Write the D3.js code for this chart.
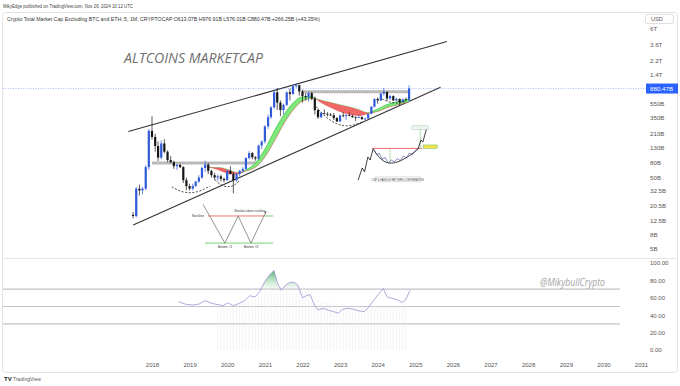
<!DOCTYPE html>
<html><head><meta charset="utf-8">
<script src="https://cdn.jsdelivr.net/npm/d3@7"></script>
<style>
body{margin:0;background:#fff;}
svg{display:block;font-family:"Liberation Sans",Arial,sans-serif;}
</style>
</head><body>
<svg id="chart" width="680" height="386"></svg>
<script>
// monthly candles, values in billions USD, first month 2017-07
const firstMonth = '2017-07';
const openB  = [15,14.5,35,33,35,70, 225,185,138,95,150,115,88,82,72,75,70,46, 38,35,38,44,50,68,76,62,54,50,52,48, 46,62,56,46,56,62,66,94,110,96,92,140, 160,260,350,480,780,560,440,520,780,740,950,980, 800,690,670,760,640,440,350,400,390,380,372,340, 305,370,365,375,365,350,345,350,330,335,390,490, 630,600,750,790,640,690,600,630,570,620,613.07];
const highB  = [16.5,37,40,37,74,240, 360,205,160,165,172,120,100,86,78,78,72,50, 41,41,45,54,72,86,80,64,58,55,55,50, 64,72,60,58,64,70,96,118,114,100,145,165, 270,380,500,820,900,600,540,800,880,990,1030,1000, 850,760,800,790,680,460,420,450,410,400,400,350, 380,410,390,410,380,360,375,360,345,395,500,640, 660,760,900,800,720,710,660,640,640,660,976.91];
const lowB   = [13.5,13.8,28,29,33,64, 170,115,85,90,110,82,80,66,64,68,42,33, 33,33,37,42,48,60,56,50,46,45,44,43, 45,55,30,43,52,58,64,90,90,86,88,125, 150,240,330,460,440,360,380,500,600,720,900,700, 560,600,580,600,380,330,340,380,360,360,320,300, 300,350,320,360,345,310,340,320,320,330,385,480, 540,590,700,600,610,590,580,520,560,590,576.01];
const closeB = [14.5,35,33,35,70,225, 185,138,95,150,115,88,82,72,75,70,46,38, 35,38,44,50,68,76,62,54,50,52,48,46, 62,56,46,56,62,66,94,110,96,92,140,160, 260,350,480,780,560,440,520,780,740,950,980,800, 690,670,760,640,440,350,400,390,380,372,340,305, 370,365,375,365,350,345,350,330,335,390,490,630, 600,750,790,640,690,600,630,570,620,613.07,880.47];
const lastClose = 880.47;

// ribbon (two moving averages), decimal years -> billions
const maYears = [2019.5,2019.75,2020.0,2020.25,2020.5,2020.75,2021.0,2021.25,2021.5,2021.75,2022.0,2022.25,2022.5,2022.75,2023.0,2023.25,2023.5,2023.75,2024.0,2024.25,2024.5,2024.83];
const fastMA  = [71,65,58,56,64,80,125,224,375,553,671,671,560,480,420,385,370,398,455,527,571,629];
const slowMA  = [69,69,65,59,62,70,97,162,281,441,590,639,605,560,520,485,445,402,420,478,518,571];

// drawings on the price pane: [decimal year, billions]
const upperChannel = [[2017.37,220],[2025.84,4000]];
const lowerChannel = [[2017.50,10.8],[2025.67,916]];
const supportLines = [[[2018.0,80],[2020.8,80]], [[2021.98,795],[2024.86,795]]];
const dashedArcs = [
  [[2018.53,37],[2018.74,32],[2019.01,30],[2019.28,32],[2019.54,38]],
  [[2019.68,46],[2019.86,38],[2020.02,37],[2020.18,38],[2020.34,46]],
  [[2022.31,535],[2022.52,388],[2022.79,300],[2023.05,263],[2023.32,263],[2023.59,300]],
  [[2024.12,629],[2024.33,562],[2024.54,544],[2024.76,590]]
];
// double bottom sketch
const wPath = [[2019.36,21],[2019.94,6.05],[2020.29,14.5],[2020.63,6.05],[2021.03,16.7]];
const neckRed = [[2019.49,14.5],[2021.0,14.5]];
const neckGreen = [[2021.0,14.5],[2021.22,14.5]];
const bottomLine = [[2019.41,6.05],[2021.22,6.05]];
// cup & handle sketch
const cupLead = [[2023.48,46],[2023.59,68],[2023.65,60],[2023.74,97],[2023.80,88],[2023.88,126]];
const cupCurve = [[2023.88,125],[2024.06,91],[2024.28,77],[2024.54,82],[2024.81,97],[2025.07,125]];
const cupPrice = [[2023.90,122],[2023.98,104],[2024.04,110],[2024.12,90],[2024.20,95],[2024.28,80],[2024.36,88],[2024.44,83],[2024.52,92],[2024.60,86],[2024.68,100],[2024.76,94],[2024.84,110],[2024.92,104],[2025.0,120],[2025.07,125]];
const cupBreak = [[2025.07,125],[2025.15,168],[2025.2,157],[2025.3,245],[2025.33,250]];
const cupNeck = [[2023.85,128],[2025.18,128]];
const cupDepth = [[2024.33,125],[2024.33,80]];
const cupTarget = [[2025.13,128],[2025.13,247]];
const targetBox = [[2024.91,265],[2025.34,237]];
const entryBox = [[2025.21,143],[2025.58,128]];
const noteBox = [[2023.93,51],[2025.13,43.5]];

// RSI pane
const rsiYears = [2018.71,2018.9,2019.1,2019.25,2019.4,2019.55,2019.7,2019.9,2020.02,2020.17,2020.32,2020.46,2020.6,2020.74,2020.86,2021.0,2021.1,2021.24,2021.34,2021.44,2021.56,2021.66,2021.78,2021.88,2022.0,2022.1,2022.2,2022.32,2022.42,2022.55,2022.67,2022.82,2022.95,2023.07,2023.21,2023.36,2023.5,2023.65,2023.75,2023.9,2024.0,2024.15,2024.25,2024.4,2024.54,2024.64,2024.74,2024.86];
const rsiVals = [55.5,52.5,51.7,52.8,56.6,54.3,52.5,51,54.3,51,53.6,56.6,62.3,61,66.8,78.9,85,91.3,76,68.7,75,77.4,78,74.3,60,62.3,63.8,51.7,46,48,46,44.2,42.3,46.8,48,46.8,45,44.2,48.7,57.4,63,70.6,61,59.2,57.4,54.7,57.4,68.7];
const histFirst = '2019-10';
const histVals = [50,50,50,51,52,50,52,53,54,57,58,58,60,63,65,70,72,74,75,75,74,74,75,75,76,76,75,74,72,70,66,62,58,56,55,55,54,54,53,53,53,52,52,52,51,51,51,50,50,51,51,51,51,52,52,52,51,51,51,51,52];
const rsiLevels = [70,50,30];

const priceTicks = [5,8,12.5,20.5,32.5,50,80,130,210,350,550,1400,2200,3600,6000];
const rsiTicks = [0,20,40,60,80,100];

// ---- scales
const svg = d3.select('#chart');
const x = d3.scaleTime().domain([new Date(2018,0,1), new Date(2031,0,1)]).range([152,641]);
const y = d3.scaleLog().domain([5,6000]).range([249,29]);
const yR = d3.scaleLinear().domain([0,100]).range([350,263]);
function yd(v){ const yr=Math.floor(v); const s=new Date(yr,0,1), e=new Date(yr+1,0,1); return new Date(+s+(v-yr)*(e-s)); }
const px = p => x(yd(p[0])), py = p => y(p[1]);
const line = d3.line().x(px).y(py);
const parseM = d3.timeParse('%Y-%m');

const defs = svg.append('defs');
defs.append('clipPath').attr('id','pane').append('rect').attr('x',3).attr('y',13).attr('width',617).attr('height',244);

// frame
svg.append('rect').attr('x',2.5).attr('y',12.5).attr('width',675).attr('height',360).attr('rx',3)
  .attr('fill','none').attr('stroke','#e3e3e3');
svg.append('line').attr('x1',3).attr('x2',677).attr('y1',258.5).attr('y2',258.5).attr('stroke','#e6e6e6');

// header
svg.append('text').attr('x',3).attr('y',8).attr('font-size',5).attr('fill','#444')
  .attr('textLength',130).attr('lengthAdjust','spacingAndGlyphs')
  .text('MikyEdge published on TradingView.com, Nov 26, 2024 10:12 UTC');
svg.append('text').attr('x',7).attr('y',21).attr('font-size',5.4).attr('fill','#333')
  .attr('textLength',313).attr('lengthAdjust','spacingAndGlyphs')
  .text('Crypto Total Market Cap Excluding BTC and ETH, 5, 1M, CRYPTOCAP  O613.07B  H976.91B  L576.01B  C880.47B  +266.25B (+43.35%)');

const pane = svg.append('g').attr('clip-path','url(#pane)');

// title
pane.append('text').attr('x',124).attr('y',62.5).attr('font-family','"Open Sans",sans-serif')
  .attr('font-style','italic').attr('font-size',15).attr('fill','#707070')
  .attr('textLength',139).attr('lengthAdjust','spacingAndGlyphs').text('ALTCOINS MARKETCAP');

// channel
[upperChannel, lowerChannel].forEach(c => pane.append('path').attr('d',line(c))
  .attr('fill','none').attr('stroke','#333').attr('stroke-width',1.1));

// horizontal levels
supportLines.forEach(s => pane.append('path').attr('d',line(s))
  .attr('fill','none').attr('stroke','#a8a8a8').attr('stroke-width',3).attr('opacity',0.8));

// ribbon: green where fast > slow, red otherwise
const ma = maYears.map((t,i)=>({t, f:fastMA[i], s:slowMA[i]}));
const mx = d => x(yd(d.t));
const crv = d3.curveMonotoneX;
defs.append('clipPath').attr('id','above').append('path')
  .attr('d', d3.area().x(mx).y0(0).y1(d=>y(d.s)).curve(crv)(ma));
defs.append('clipPath').attr('id','below').append('path')
  .attr('d', d3.area().x(mx).y0(400).y1(d=>y(d.s)).curve(crv)(ma));
const band = d3.area().x(mx).y0(d=>y(d.s)).y1(d=>y(d.f)).curve(crv)(ma);
pane.append('g').attr('clip-path','url(#above)').append('path').attr('d',band)
  .attr('fill','#7ee87a').attr('stroke','#3fbf45').attr('stroke-width',0.7);
pane.append('g').attr('clip-path','url(#below)').append('path').attr('d',band)
  .attr('fill','#f26868').attr('stroke','#e04848').attr('stroke-width',0.7);

// candles
const start = parseM(firstMonth);
const candles = openB.map((o,i)=>({d:d3.timeMonth.offset(start,i), o, h:highB[i], l:lowB[i], c:closeB[i]}));
const cg = pane.append('g');
candles.forEach(k=>{
  const col = k.c >= k.o ? '#2f5ad8' : '#161616';
  const cx = x(k.d);
  cg.append('line').attr('x1',cx).attr('x2',cx).attr('y1',y(k.h)).attr('y2',y(k.l)).attr('stroke',col).attr('stroke-width',0.7);
  const top = y(Math.max(k.o,k.c)), bot = y(Math.min(k.o,k.c));
  cg.append('rect').attr('x',cx-1.1).attr('y',top).attr('width',2.2).attr('height',Math.max(0.8,bot-top)).attr('fill',col);
});

// dashed cups under price
const smooth = d3.line().x(px).y(py).curve(d3.curveBasis);
dashedArcs.forEach(a => pane.append('path').attr('d',smooth(a)).attr('fill','none')
  .attr('stroke','#222').attr('stroke-width',0.8).attr('stroke-dasharray','2,1.6'));

// double bottom sketch
pane.append('path').attr('d',line(bottomLine)).attr('stroke','#66cc66').attr('stroke-width',0.9).attr('fill','none');
pane.append('path').attr('d',line(neckRed)).attr('stroke','#e66a6a').attr('stroke-width',0.9).attr('fill','none');
pane.append('path').attr('d',line(neckGreen)).attr('stroke','#66cc66').attr('stroke-width',0.9).attr('fill','none');
pane.append('path').attr('d',line(wPath)).attr('stroke','#666').attr('stroke-width',0.7).attr('fill','none');
const wEnd = wPath[wPath.length-1];
pane.append('path').attr('d',`M${px(wEnd)-2},${py(wEnd)+0.5}L${px(wEnd)},${py(wEnd)}L${px(wEnd)-0.5},${py(wEnd)+2}`)
  .attr('stroke','#333').attr('stroke-width',0.6).attr('fill','none');
const tiny = (p,t,anchor,fs) => pane.append('text').attr('x',px(p)).attr('y',py(p)).attr('font-size',fs||3.2)
  .attr('fill','#333').attr('text-anchor',anchor||'middle').text(t);
tiny([2019.39,14.2],'Neckline','end');
tiny([2019.94,5.2],'Bottom #1');
tiny([2020.63,5.2],'Bottom #2');
tiny([2020.6,16.3],'Breakout above neckline','middle',2.8);

// cup & handle sketch
pane.append('path').attr('d',line(cupNeck)).attr('stroke','#e66a6a').attr('stroke-width',1).attr('fill','none');
pane.append('path').attr('d',line(cupDepth)).attr('stroke','#7ccf7c').attr('stroke-width',0.6).attr('fill','none');
pane.append('path').attr('d',line(cupTarget)).attr('stroke','#7ccf7c').attr('stroke-width',0.6).attr('fill','none');
pane.append('path').attr('d',line(cupLead)).attr('stroke','#111').attr('stroke-width',0.8).attr('fill','none');
pane.append('path').attr('d',smooth(cupCurve)).attr('stroke','#111').attr('stroke-width',0.8).attr('fill','none');
pane.append('path').attr('d',line(cupPrice)).attr('stroke','#3b3f8f').attr('stroke-width',0.6).attr('fill','none');
pane.append('path').attr('d',line(cupBreak)).attr('stroke','#111').attr('stroke-width',0.8).attr('fill','none');
const box = (b,fill,stroke) => pane.append('rect').attr('x',px(b[0])).attr('y',py(b[0]))
  .attr('width',px(b[1])-px(b[0])).attr('height',py(b[1])-py(b[0])).attr('fill',fill).attr('stroke',stroke).attr('stroke-width',0.5);
box(targetBox,'#f2f2f2','#9ccf9c');
box(entryBox,'#f1e44a','#6cbf6c');
box(noteBox,'#ffffff','#bbbbbb');
pane.append('text').attr('x',(px(noteBox[0])+px(noteBox[1]))/2).attr('y',py(noteBox[1])-1.1)
  .attr('font-size',2.6).attr('text-anchor','middle').attr('fill','#444').text('CUP & HANDLE PATTERN CONFIRMATION');

// last price line
svg.append('line').attr('x1',3).attr('x2',646).attr('y1',y(lastClose)).attr('y2',y(lastClose))
  .attr('stroke','#2962ff').attr('stroke-width',0.6).attr('stroke-dasharray','1,1.5').attr('opacity',0.7);

// price axis
const fmtP = v => v>=1000 ? (v/1000)+'T' : v+'B';
const pAx = svg.append('g').attr('transform','translate(648,0)')
  .call(d3.axisRight(y).tickValues(priceTicks).tickFormat(fmtP).tickSize(0).tickPadding(2));
pAx.select('.domain').remove();
pAx.selectAll('text').attr('font-size',6.2).attr('fill','#555').attr('font-family','"Liberation Sans",Arial,sans-serif');
svg.append('rect').attr('x',646).attr('y',y(lastClose)-5).attr('width',32).attr('height',10).attr('fill','#2962ff');
svg.append('text').attr('x',650).attr('y',y(lastClose)+2.2).attr('font-size',6.2).attr('fill','#fff').text('880.47B');
svg.append('rect').attr('x',645.5).attr('y',14.5).attr('width',28).attr('height',9).attr('rx',1.5).attr('fill','#fff').attr('stroke','#e0e0e0');
svg.append('text').attr('x',651).attr('y',21).attr('font-size',5.6).attr('fill','#555').text('USD');

// ---- RSI pane
rsiLevels.forEach(v => svg.append('line').attr('x1',3).attr('x2',620).attr('y1',yR(v)).attr('y2',yR(v))
  .attr('stroke','#c2c2ca').attr('stroke-width',1.1));
const hStart = parseM(histFirst);
const hg = svg.append('g');
histVals.forEach((v,i)=>{
  const hx = x(d3.timeMonth.offset(hStart,i));
  hg.append('line').attr('x1',hx).attr('x2',hx).attr('y1',yR(0)).attr('y2',yR(v)).attr('stroke','#ebebef').attr('stroke-width',0.6);
});
const rsi = rsiYears.map((t,i)=>[t, rsiVals[i]]);
const rx = p => x(yd(p[0])), ry = p => yR(p[1]);
const grad = defs.append('linearGradient').attr('id','ob').attr('gradientUnits','userSpaceOnUse')
  .attr('x1',0).attr('x2',0).attr('y1',yR(92)).attr('y2',yR(70));
grad.append('stop').attr('offset',0).attr('stop-color','#2e9e4f').attr('stop-opacity',0.85);
grad.append('stop').attr('offset',1).attr('stop-color','#8fd6a0').attr('stop-opacity',0.05);
defs.append('clipPath').attr('id','ob70').append('rect').attr('x',0).attr('y',0).attr('width',680).attr('height',yR(70));
svg.append('path').attr('clip-path','url(#ob70)')
  .attr('d', d3.area().x(rx).y0(yR(70)).y1(ry)(rsi)).attr('fill','url(#ob)');
svg.append('path').attr('d', d3.line().x(rx).y(ry)(rsi)).attr('fill','none').attr('stroke','#9d92d2').attr('stroke-width',0.8);

svg.append('text').attr('x',540).attr('y',286).attr('font-family','"Open Sans",sans-serif').attr('font-style','italic')
  .attr('font-size',10.5).attr('fill','#a5a5a5').attr('textLength',65).attr('lengthAdjust','spacingAndGlyphs').text('@MikybullCrypto');

const rAx = svg.append('g').attr('transform','translate(648,0)')
  .call(d3.axisRight(yR).tickValues(rsiTicks).tickFormat(d3.format('.2f')).tickSize(0).tickPadding(2));
rAx.select('.domain').remove();
rAx.selectAll('text').attr('font-size',6).attr('fill','#555').attr('font-family','"Liberation Sans",Arial,sans-serif');

// time axis
const tAx = svg.append('g').attr('transform','translate(0,363)')
  .call(d3.axisBottom(x).ticks(d3.timeYear.every(1)).tickFormat(d3.timeFormat('%Y')).tickSize(0).tickPadding(0));
tAx.select('.domain').remove();
tAx.selectAll('text').attr('font-size',6).attr('fill','#555').attr('font-family','"Liberation Sans",Arial,sans-serif');

// footer
svg.append('text').attr('x',4).attr('y',381).attr('font-size',6).attr('font-weight','bold').attr('fill','#222').text('TV');
svg.append('text').attr('x',13).attr('y',381).attr('font-size',5.5).attr('fill','#555')
  .attr('textLength',28).attr('lengthAdjust','spacingAndGlyphs').text('TradingView');
</script>
</body></html>
